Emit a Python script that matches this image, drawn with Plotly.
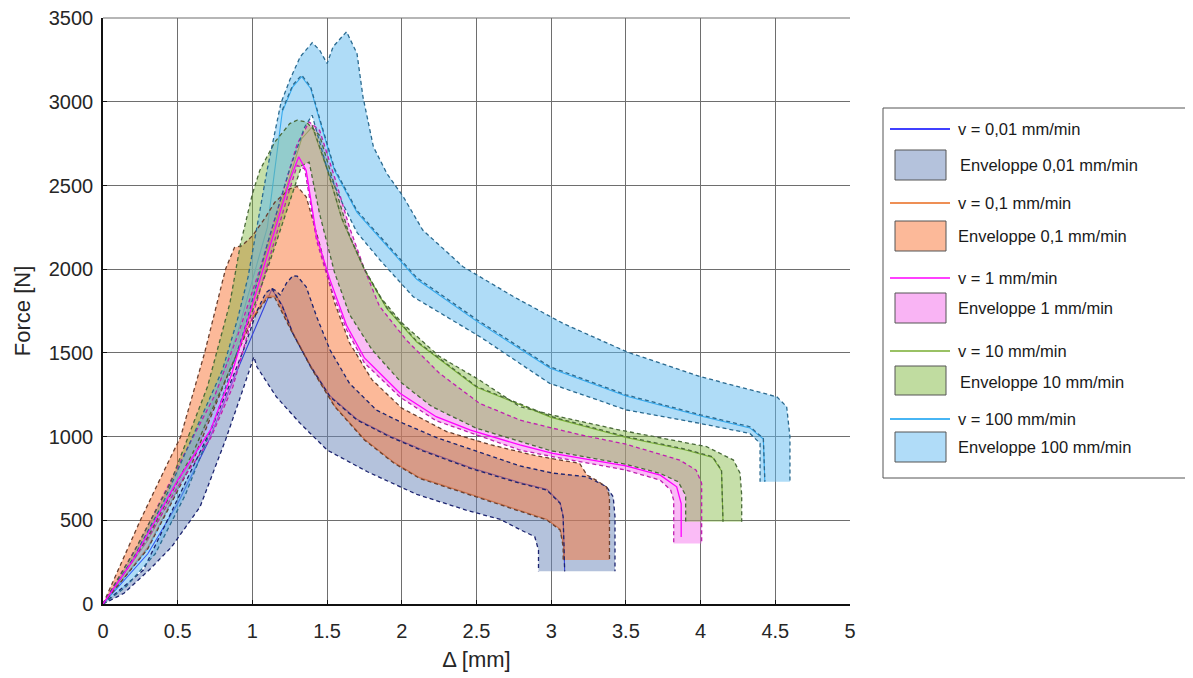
import plotly.graph_objects as go

# ---------------- data ----------------
labels_v = ["v = 0,01 mm/min", "v = 0,1 mm/min", "v = 1 mm/min", "v = 10 mm/min", "v = 100 mm/min"]
labels_env = ["Enveloppe 0,01 mm/min", "Enveloppe 0,1 mm/min", "Enveloppe 1 mm/min",
              "Enveloppe 10 mm/min", "Enveloppe 100 mm/min"]

# 0,01 mm/min
up001_x = [0, 0.13, 0.27, 0.40, 0.56, 0.72, 0.87, 0.94, 1.03, 1.09, 1.13, 1.16, 1.185, 1.23, 1.27, 1.30,
           1.36, 1.43, 1.52, 1.65, 1.83, 2.01, 2.23, 2.46, 2.79, 3.01, 3.24, 3.37, 3.415, 3.427, 3.427]
up001_y = [0, 100, 203, 442, 741, 1039, 1358, 1517, 1750, 1860, 1886, 1870, 1846, 1920, 1960, 1959,
           1895, 1716, 1517, 1318, 1159, 1079, 995, 925, 825, 782, 760, 701, 641, 521, 195]
lo001_x = [0, 0.14, 0.32, 0.46, 0.65, 0.82, 0.92, 1.0, 1.01, 1.03, 1.16, 1.32, 1.50, 1.77, 2.1, 2.43,
           2.66, 2.79, 2.89, 2.915, 2.915]
lo001_y = [0, 64, 213, 342, 581, 980, 1238, 1460, 1477, 1417, 1238, 1079, 920, 790, 655, 561,
           505, 445, 402, 322, 195]
in001_x = [1.13, 1.2, 1.27, 1.39, 1.52, 1.70, 1.92, 2.14, 2.46, 2.79, 2.97, 3.06, 3.08, 3.09]
in001_y = [1886, 1780, 1617, 1418, 1238, 1099, 999, 915, 810, 721, 681, 601, 521, 195]
mean001_x = [0, 0.3, 0.5, 0.7, 0.9, 1.05, 1.13, 1.2, 1.27, 1.39, 1.52, 1.70, 1.92, 2.14, 2.46, 2.79,
             2.97, 3.06, 3.08, 3.09]
mean001_y = [0, 300, 600, 960, 1400, 1720, 1880, 1785, 1622, 1423, 1243, 1104, 1004, 920, 815, 726,
             686, 606, 526, 200]

# 0,1 mm/min
up01_x = [0, 0.1, 0.25, 0.4, 0.52, 0.68, 0.82, 0.88, 0.93, 1.0, 1.08, 1.15, 1.25, 1.30, 1.36, 1.45,
          1.55, 1.65, 1.8, 2.0, 2.3, 2.6, 2.9, 3.19, 3.24, 3.30, 3.37, 3.39, 3.39]
up01_y = [0, 200, 500, 780, 1000, 1500, 2000, 2130, 2140, 2200, 2300, 2400, 2480, 2495, 2433, 2150,
          1800, 1560, 1340, 1170, 1030, 950, 885, 840, 770, 740, 700, 640, 263]
lo01_x = [0, 0.3, 0.6, 0.85, 1.0, 1.1, 1.15, 1.25, 1.4, 1.55, 1.75, 1.95, 2.12, 2.5, 2.97, 3.06, 3.08, 3.08]
lo01_y = [0, 330, 850, 1400, 1700, 1830, 1830, 1650, 1400, 1180, 980, 840, 750, 641, 502, 442, 342, 263]
mean01_x = [0, 0.3, 0.6, 0.85, 1.0, 1.1, 1.16, 1.25, 1.4, 1.55, 1.75, 1.95, 2.12, 2.5, 2.97, 3.06,
            3.085, 3.085]
mean01_y = [0, 340, 860, 1410, 1710, 1840, 1838, 1656, 1405, 1185, 985, 845, 755, 646, 507, 447, 347, 265]

# 1 mm/min
up1_x = [0, 0.25, 0.5, 0.75, 0.9, 1.05, 1.2, 1.3, 1.38, 1.45, 1.55, 1.65, 1.75, 1.85, 2.03, 2.25, 2.52,
         2.79, 2.97, 3.2, 3.5, 3.86, 3.97, 4.007, 4.007]
up1_y = [0, 380, 820, 1250, 1600, 2000, 2450, 2750, 2880, 2830, 2550, 2250, 2000, 1780, 1577, 1380, 1199,
         1099, 1059, 1010, 955, 860, 800, 721, 362]
lo1_x = [0, 0.3, 0.5, 0.72, 0.87, 1.05, 1.25, 1.3, 1.35, 1.43, 1.52, 1.63, 1.75, 1.99, 2.23, 2.5,
         2.79, 3.01, 3.5, 3.73, 3.80, 3.82, 3.82]
lo1_y = [0, 390, 700, 990, 1300, 1870, 2480, 2620, 2600, 2170, 1900, 1640, 1440, 1235, 1095, 1010,
         920, 880, 800, 740, 680, 620, 362]
mean1_x = [0, 0.2, 0.5, 0.72, 0.86, 1.05, 1.25, 1.31, 1.36, 1.43, 1.52, 1.63, 1.75, 1.99, 2.23, 2.46,
           2.79, 3.01, 3.5, 3.73, 3.84, 3.87, 3.87]
mean1_y = [0, 260, 740, 1040, 1370, 1935, 2532, 2672, 2590, 2194, 1935, 1665, 1470, 1258, 1119, 1039,
           950, 900, 825, 770, 700, 600, 400]

# 10 mm/min
up10_x = [0, 0.2, 0.45, 0.7, 0.85, 0.92, 1.0, 1.05, 1.15, 1.25, 1.30, 1.36, 1.45, 1.55, 1.65, 1.75,
          1.854, 2.0, 2.25, 2.52, 2.79, 3.0, 3.46, 4.04, 4.22, 4.264, 4.275, 4.275]
up10_y = [0, 300, 720, 1300, 1800, 2150, 2450, 2592, 2760, 2870, 2891, 2880, 2800, 2500, 2200, 2000,
          1835, 1680, 1480, 1338, 1179, 1130, 1039, 940, 860, 781, 650, 492]
lo10_x = [0, 0.3, 0.6, 0.9, 1.1, 1.25, 1.33, 1.38, 1.45, 1.55, 1.65, 1.8, 2.0, 2.2, 2.5, 3.0, 3.5,
          3.73, 3.85, 3.9, 3.9]
lo10_y = [0, 400, 900, 1500, 2000, 2400, 2620, 2640, 2330, 1980, 1730, 1520, 1320, 1180, 1050, 915, 835,
          780, 730, 650, 492]
in10_x = [1.4, 1.5, 1.6, 1.75, 1.9, 2.1, 2.5, 3.0, 3.5, 3.9, 4.08, 4.14, 4.15]
in10_y = [2860, 2600, 2300, 2000, 1770, 1570, 1300, 1120, 1000, 925, 880, 800, 492]
mean10_x = [0, 0.3, 0.6, 0.9, 1.1, 1.25, 1.33, 1.4, 1.5, 1.6, 1.75, 1.9, 2.1, 2.5, 3.0, 3.5, 3.9, 4.08,
            4.14, 4.15]
mean10_y = [0, 380, 880, 1560, 2120, 2560, 2780, 2850, 2595, 2295, 1995, 1765, 1565, 1295, 1115, 995,
            920, 875, 795, 495]

# 100 mm/min
up100_x = [0, 0.2, 0.4, 0.6, 0.8, 0.9, 0.97, 1.03, 1.1, 1.19, 1.25, 1.32, 1.40, 1.45, 1.50, 1.54, 1.63,
           1.70, 1.74, 1.81, 1.90, 2.01, 2.14, 2.41, 2.75, 3.08, 3.51, 4.0, 4.51, 4.576, 4.598, 4.598]
up100_y = [0, 270, 600, 1000, 1400, 1700, 1950, 2250, 2600, 2990, 3130, 3269, 3353, 3309, 3229, 3329, 3419,
           3289, 3030, 2731, 2572, 2433, 2234, 2015, 1835, 1676, 1505, 1358, 1238, 1179, 1000, 731]
lo100_x = [0, 0.15, 0.35, 0.55, 0.75, 0.95, 1.1, 1.25, 1.35, 1.4, 1.5, 1.6, 1.7, 1.854, 2.077, 2.523,
           2.99, 3.505, 3.996, 4.33, 4.398, 4.398]
lo100_y = [0, 100, 300, 650, 1100, 1650, 2150, 2600, 2850, 2920, 2600, 2400, 2220, 2055, 1835, 1597,
           1318, 1159, 1079, 1019, 960, 731]
in100_x = [1.2, 1.27, 1.33, 1.39, 1.45, 1.55, 1.7, 1.9, 2.1, 2.5, 2.99, 3.5, 4.0, 4.33, 4.42, 4.43]
in100_y = [2950, 3100, 3160, 3090, 2900, 2600, 2350, 2150, 1950, 1700, 1418, 1250, 1130, 1059, 990, 731]
mean100_x = [0, 0.3, 0.6, 0.9, 1.1, 1.2, 1.27, 1.33, 1.39, 1.45, 1.55, 1.7, 1.9, 2.1, 2.5, 2.99, 3.5,
             4.0, 4.33, 4.42, 4.43]
mean100_y = [0, 330, 870, 1620, 2250, 2940, 3090, 3150, 3080, 2890, 2590, 2340, 2140, 1940, 1690, 1410,
             1243, 1123, 1052, 985, 731]

x_ticks = [0, 0.5, 1, 1.5, 2, 2.5, 3, 3.5, 4, 4.5, 5]
x_tick_text = ["0", "0.5", "1", "1.5", "2", "2.5", "3", "3.5", "4", "4.5", "5"]
y_ticks = [0, 500, 1000, 1500, 2000, 2500, 3000, 3500]
y_tick_text = ["0", "500", "1000", "1500", "2000", "2500", "3000", "3500"]

# ---------------- styles ----------------
fill_cols = ["rgba(105,133,185,0.5)", "rgba(249,115,51,0.5)", "rgba(245,105,235,0.45)",
             "rgba(129,185,65,0.45)", "rgba(95,185,240,0.5)"]
legend_fill = ["#b4c2dc", "#fcb999", "#f9b4f4", "#c0dca0", "#b0dcf8"]
line_cols = ["#0000ff", "#e86a1c", "#ff00ff", "#77ac30", "#0a9cf0"]
dash_cols = ["#1c2470", "#6a4030", "#c020b0", "#4a6a3a", "#2a6a90"]
mean_on_top = [False, False, True, False, False]

series = [
    (up001_x, up001_y, lo001_x, lo001_y, [(in001_x, in001_y)], mean001_x, mean001_y),
    (up01_x, up01_y, lo01_x, lo01_y, [], mean01_x, mean01_y),
    (up1_x, up1_y, lo1_x, lo1_y, [], mean1_x, mean1_y),
    (up10_x, up10_y, lo10_x, lo10_y, [(in10_x, in10_y)], mean10_x, mean10_y),
    (up100_x, up100_y, lo100_x, lo100_y, [(in100_x, in100_y)], mean100_x, mean100_y),
]

fig = go.Figure()
# mean curves that sit underneath the envelopes
for i, s in enumerate(series):
    if not mean_on_top[i]:
        fig.add_trace(go.Scatter(x=s[5], y=s[6], mode="lines", name=labels_v[i], showlegend=False,
                                 line=dict(color=line_cols[i], width=1.1)))
# envelopes
for i, (ux, uy, lx, ly, inner, mx, my) in enumerate(series):
    fig.add_trace(go.Scatter(x=list(ux) + list(lx)[::-1], y=list(uy) + list(ly)[::-1],
                             fill="toself", fillcolor=fill_cols[i], mode="none",
                             name=labels_env[i], showlegend=False, hoverinfo="skip"))
# dashed bounding curves
for i, (ux, uy, lx, ly, inner, mx, my) in enumerate(series):
    for cx, cy in [(ux, uy), (lx, ly)] + inner:
        fig.add_trace(go.Scatter(x=cx, y=cy, mode="lines", showlegend=False,
                                 line=dict(color=dash_cols[i], width=1.3, dash="4px,3px"),
                                 hoverinfo="skip"))
for i, s in enumerate(series):
    if mean_on_top[i]:
        fig.add_trace(go.Scatter(x=s[5], y=s[6], mode="lines", name=labels_v[i], showlegend=False,
                                 line=dict(color=line_cols[i], width=1.3)))

# ---------------- layout / manual legend ----------------
BODY = 8                      # html body margin of the page
W, H = 1193 - BODY, 678 - BODY
L, R, T, B = 103, 850, 18, 604   # plot area in window pixels
pw, ph = R - L, B - T


def px(xp):
    return (xp - L) / pw


def py(yp):
    return (B - yp) / ph


shapes = [dict(type="rect", xref="paper", yref="paper", x0=px(883), x1=px(1192),
               y0=py(478), y1=py(108), line=dict(color="#555555", width=1), fillcolor="white",
               layer="below"),
          dict(type="line", xref="paper", yref="paper", x0=0, x1=1, y0=1, y1=1,
               line=dict(color="#6e6e6e", width=1.2), layer="below")]
annots = []
line_y = [129, 203, 278, 351, 419]
rect_y = [(150, 180), (221, 251), (293, 323), (366, 395), (432, 462)]
text_env_y = [165, 236, 308, 382, 447]
text_env_x = [958, 956, 956, 958, 956]
for i in range(5):
    shapes.append(dict(type="line", xref="paper", yref="paper", x0=px(890), x1=px(950),
                       y0=py(line_y[i]), y1=py(line_y[i]), line=dict(color=line_cols[i], width=1.5)))
    shapes.append(dict(type="rect", xref="paper", yref="paper", x0=px(895), x1=px(946),
                       y0=py(rect_y[i][1]), y1=py(rect_y[i][0]),
                       line=dict(color="#555555", width=1), fillcolor=legend_fill[i]))
    annots.append(dict(xref="paper", yref="paper", x=px(956), y=py(line_y[i]), text=labels_v[i],
                       showarrow=False, xanchor="left", yanchor="middle",
                       font=dict(size=16.5, color="#1a1a1a")))
    annots.append(dict(xref="paper", yref="paper", x=px(text_env_x[i]), y=py(text_env_y[i]),
                       text=labels_env[i], showarrow=False, xanchor="left", yanchor="middle",
                       font=dict(size=16.5, color="#1a1a1a")))

fig.update_layout(
    width=W, height=H,
    margin=dict(l=L - BODY, r=(W + BODY) - R, t=T - BODY, b=(H + BODY) - B, autoexpand=False),
    paper_bgcolor="white", plot_bgcolor="white",
    font=dict(family="Liberation Sans, Arial, sans-serif", color="#262626"),
    showlegend=False,
    shapes=shapes, annotations=annots,
)
fig.update_xaxes(range=[0, 5], tickvals=x_ticks, ticktext=x_tick_text,
                 showgrid=True, gridcolor="#6e6e6e", gridwidth=1.2, zeroline=False,
                 showline=True, linecolor="#111111", linewidth=1.5, mirror=False,
                 ticks="inside", ticklen=4, tickcolor="#111111", ticklabelstandoff=8,
                 automargin=False, ticklabeloverflow="allow",
                 tickfont=dict(size=20), title=dict(text="Δ [mm]", font=dict(size=22), standoff=11))
fig.update_yaxes(range=[0, 3501], tickvals=y_ticks, ticktext=y_tick_text,
                 showgrid=True, gridcolor="#6e6e6e", gridwidth=1.2, zeroline=False,
                 showline=True, linecolor="#111111", linewidth=1.5, mirror=False,
                 ticks="inside", ticklen=4, tickcolor="#111111", ticklabelstandoff=4,
                 automargin=False, ticklabeloverflow="allow",
                 tickfont=dict(size=20), title=dict(text="Force [N]", font=dict(size=22), standoff=12))

fig.write_html("out.html")
